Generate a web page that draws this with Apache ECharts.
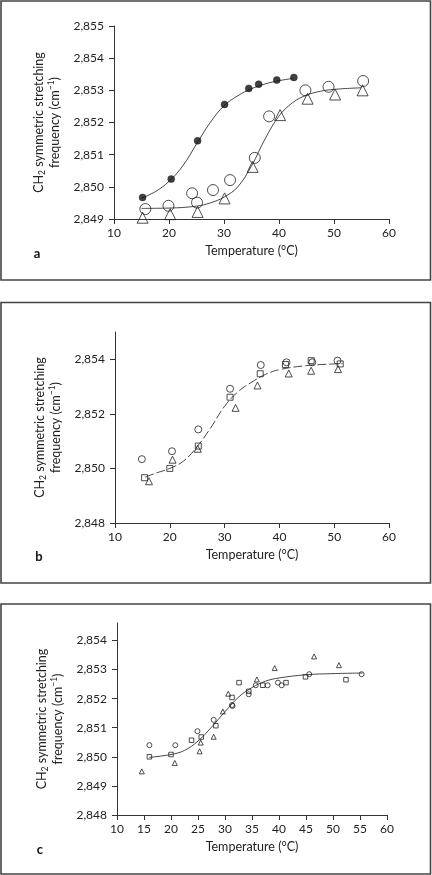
<!DOCTYPE html>
<html>
<head>
<meta charset="utf-8">
<script src="https://cdn.jsdelivr.net/npm/echarts@6/dist/echarts.min.js"></script>
<style>
html,body{margin:0;padding:0;background:#fff;}
#chart{width:432px;height:875px;}
</style>
</head>
<body>
<div id="chart"></div>
<script>
// ---------- Panel a ----------
const aFilledT = [15.2, 20.4, 25.2, 30.1, 34.5, 36.3, 39.6, 42.7];
const aFilledV = [2849.67, 2850.24, 2851.43, 2852.56, 2853.06, 2853.19, 2853.32, 2853.40];
const aCircT = [15.7, 19.9, 24.2, 25.1, 28.0, 31.1, 35.6, 38.2, 44.8, 49.0, 55.3];
const aCircV = [2849.31, 2849.41, 2849.80, 2849.51, 2849.90, 2850.21, 2850.90, 2852.19, 2853.00, 2853.11, 2853.29];
const aTriT = [15.2, 20.2, 25.2, 30.1, 35.2, 40.2, 45.2, 50.2, 55.2];
const aTriV = [2849.04, 2849.15, 2849.22, 2849.64, 2850.62, 2852.23, 2852.74, 2852.87, 2853.00];
const aFitFilledT = [15, 17.5, 20, 22.5, 25, 27.5, 30, 32.5, 35, 37.5, 40, 42.5];
const aFitFilledV = [2849.65, 2849.85, 2850.17, 2850.65, 2851.33, 2852.0, 2852.52, 2852.83, 2853.05, 2853.2, 2853.3, 2853.37];
const aFitOpenT = [15, 20, 25, 27.5, 30, 32.5, 35, 37.5, 40, 42.5, 45, 47.5, 50, 55];
const aFitOpenV = [2849.33, 2849.34, 2849.4, 2849.5, 2849.68, 2850.0, 2850.65, 2851.5, 2852.2, 2852.62, 2852.85, 2852.97, 2853.03, 2853.08];

// ---------- Panel b ----------
const bCircT = [14.9, 20.4, 25.2, 31.0, 36.6, 41.3, 46.0, 50.6];
const bCircV = [2850.34, 2850.63, 2851.43, 2852.92, 2853.79, 2853.89, 2853.89, 2853.95];
const bSqT = [15.4, 20.0, 25.2, 31.0, 36.5, 41.1, 45.8, 51.1];
const bSqV = [2849.66, 2850.0, 2850.82, 2852.61, 2853.47, 2853.81, 2853.95, 2853.83];
const bTriT = [16.2, 20.5, 25.1, 32.0, 36.0, 41.7, 45.8, 50.7];
const bTriV = [2849.53, 2850.32, 2850.72, 2852.22, 2853.04, 2853.48, 2853.58, 2853.64];
const bFitT = [15.5, 17.5, 20, 22.5, 25, 27.5, 30, 32.5, 35, 37.5, 40, 45, 50, 51.5];
const bFitV = [2849.68, 2849.83, 2850.0, 2850.27, 2850.8, 2851.5, 2852.28, 2852.82, 2853.17, 2853.45, 2853.62, 2853.77, 2853.83, 2853.84];

// ---------- Panel c ----------
const cCircT = [16.0, 20.8, 24.9, 27.9, 31.3, 31.4, 34.4, 35.7, 37.9, 39.8, 40.5, 45.6, 55.3];
const cCircV = [2850.40, 2850.40, 2850.88, 2851.27, 2851.78, 2851.75, 2852.15, 2852.46, 2852.46, 2852.55, 2852.46, 2852.84, 2852.84];
const cSqT = [16.0, 20.0, 23.8, 25.6, 28.3, 31.3, 32.6, 34.4, 37.0, 41.3, 44.9, 52.4];
const cSqV = [2850.0, 2850.08, 2850.57, 2850.68, 2851.07, 2852.04, 2852.55, 2852.25, 2852.46, 2852.55, 2852.75, 2852.65];
const cTriT = [14.6, 20.7, 25.3, 25.5, 27.9, 29.6, 30.6, 35.9, 39.2, 46.5, 51.1];
const cTriV = [2849.50, 2849.79, 2850.19, 2850.49, 2850.69, 2851.56, 2852.17, 2852.66, 2853.05, 2853.45, 2853.15];
const cFitT = [16, 20, 22.5, 25, 27.5, 30, 32.5, 35, 37.5, 40, 45, 50, 55.5];
const cFitV = [2849.98, 2850.08, 2850.22, 2850.54, 2851.02, 2851.55, 2852.05, 2852.38, 2852.6, 2852.71, 2852.82, 2852.86, 2852.88];

// ---------- Axis ticks ----------
const aYTicks = [2849, 2850, 2851, 2852, 2853, 2854, 2855];
const bYTicks = [2848, 2850, 2852, 2854];
const cYTicks = [2848, 2849, 2850, 2851, 2852, 2853, 2854];
const xTitle = 'Temperature (°C)';
const yTitle = '{n|CH}{s|2}{n| symmetric stretching}\n{n|frequency (cm}{p|−1}{n|)}';
const panelLetters = ['a', 'b', 'c'];

const FONT = 'Lato, "Noto Sans", sans-serif';
const INK = '#222';
const zip = (t, v) => t.map((x, i) => [x, v[i]]);
const fmtY = v => (v / 1000).toFixed(3).replace('.', ',');

const chart = echarts.init(document.getElementById('chart'), null, {renderer: 'canvas'});

const grids = [
  {left: 114, top: 26, width: 275, height: 193},
  {left: 115, top: 332, width: 274, height: 191},
  {left: 117, top: 623, width: 270, height: 192}
];

function xAxis(idx, interval) {
  return {
    type: 'value', gridIndex: idx, min: 10, max: 60, interval: interval,
    name: xTitle, nameLocation: 'middle', nameGap: 25,
    nameTextStyle: {color: INK, fontSize: 12.5, fontFamily: FONT},
    axisLine: {show: true, onZero: false, lineStyle: {color: '#333', width: 1}},
    axisTick: {show: true, length: 5, lineStyle: {color: '#333', width: 1}},
    axisLabel: {color: INK, fontSize: 12, fontFamily: FONT, margin: 8},
    splitLine: {show: false}
  };
}
function yAxis(idx, min, max, ticks) {
  return {
    type: 'value', gridIndex: idx, min: min, max: max, interval: 1,
    name: yTitle, nameLocation: 'middle', nameGap: 45, nameRotate: 90,
    nameTextStyle: {
      color: INK, fontFamily: FONT, lineHeight: 16, align: 'center',
      rich: {
        n: {fontSize: 12.5, fontFamily: FONT, color: INK, lineHeight: 16},
        s: {fontSize: 8.5, fontFamily: FONT, color: INK, verticalAlign: 'bottom', lineHeight: 6},
        p: {fontSize: 8.5, fontFamily: FONT, color: INK, verticalAlign: 'top', lineHeight: 9}
      }
    },
    axisLine: {show: true, onZero: false, lineStyle: {color: '#333', width: 1}},
    axisTick: {show: true, length: 5, customValues: ticks, lineStyle: {color: '#333', width: 1}},
    axisLabel: {color: INK, fontSize: 12, fontFamily: FONT, margin: 10, customValues: ticks, formatter: fmtY},
    splitLine: {show: false}
  };
}

function scatter(idx, t, v, symbol, size, filled) {
  return {
    type: 'scatter', xAxisIndex: idx, yAxisIndex: idx, data: zip(t, v),
    symbol: symbol, symbolSize: size, z: 3,
    itemStyle: filled ? {color: '#111', borderColor: '#111', borderWidth: 0.5}
                      : {color: 'rgba(0,0,0,0)', borderColor: '#222', borderWidth: 1},
    emphasis: {disabled: true}
  };
}
function fit(idx, t, v, dashed) {
  return {
    type: 'line', xAxisIndex: idx, yAxisIndex: idx, data: zip(t, v),
    smooth: 0.4, showSymbol: false, symbol: 'none', z: 2,
    lineStyle: {color: '#333', width: 0.9, type: dashed ? [9, 3] : 'solid'},
    emphasis: {disabled: true}
  };
}

const frames = [
  {y: 1, h: 279}, {y: 302.5, h: 280.5}, {y: 604, h: 270}
];
const letterPos = [[37, 254], [39, 557], [40, 850]];

const graphic = [];
frames.forEach(f => graphic.push({
  type: 'rect', shape: {x: 1, y: f.y, width: 429.5, height: f.h},
  style: {fill: 'none', stroke: '#444', lineWidth: 1.6}, silent: true
}));
panelLetters.forEach((l, i) => graphic.push({
  type: 'text', x: letterPos[i][0], y: letterPos[i][1],
  style: {text: l, fill: '#111', font: 'bold 13px ' + FONT, align: 'center', verticalAlign: 'middle'}
}));

const option = {
  backgroundColor: '#fff',
  animation: false,
  grid: grids.map(g => Object.assign({outerBoundsMode: 'none', containLabel: false}, g)),
  xAxis: [xAxis(0, 10), xAxis(1, 10), xAxis(2, 5)],
  yAxis: [yAxis(0, 2849, 2855, aYTicks), yAxis(1, 2848, 2855, bYTicks), yAxis(2, 2848, 2854.6, cYTicks)],
  series: [
    fit(0, aFitFilledT, aFitFilledV, false),
    fit(0, aFitOpenT, aFitOpenV, false),
    scatter(0, aFilledT, aFilledV, 'circle', 7, true),
    scatter(0, aCircT, aCircV, 'circle', 11, false),
    scatter(0, aTriT, aTriV, 'triangle', 11, false),
    fit(1, bFitT, bFitV, true),
    scatter(1, bCircT, bCircV, 'circle', 7, false),
    scatter(1, bSqT, bSqV, 'rect', 6, false),
    scatter(1, bTriT, bTriV, 'triangle', 7, false),
    fit(2, cFitT, cFitV, false),
    scatter(2, cCircT, cCircV, 'circle', 5, false),
    scatter(2, cSqT, cSqV, 'rect', 4.5, false),
    scatter(2, cTriT, cTriV, 'triangle', 5, false)
  ],
  graphic: graphic
};
chart.setOption(option);
</script>
</body>
</html>
